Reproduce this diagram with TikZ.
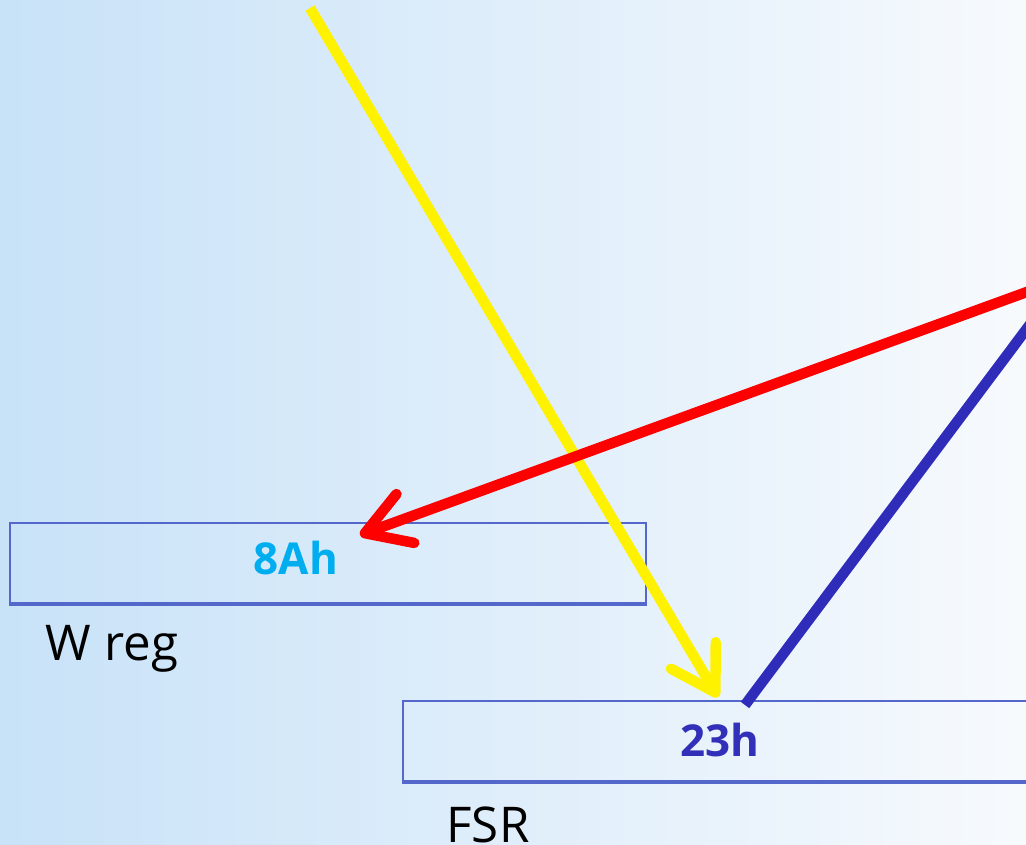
\documentclass[tikz,border=0pt]{standalone}
\usepackage{fontspec}
\setmainfont{Open Sans}
\usetikzlibrary{arrows.meta}
\definecolor{bgleft}{RGB}{200,226,248}
\definecolor{bgmid}{RGB}{234,242,251}
\definecolor{bgright}{RGB}{247,250,253}
\definecolor{boxblue}{RGB}{84,104,204}
\definecolor{valcyan}{RGB}{0,174,239}
\definecolor{valblue}{RGB}{50,48,184}
\definecolor{lineblue}{RGB}{46,44,184}
\tikzset{
  regbox/.style={draw=boxblue, line width=0.6pt, inner sep=0pt, anchor=north west, minimum height=0.8cm},
  regval/.style={font=\bfseries\fontsize{12.5}{15}\selectfont},
  reglbl/.style={font=\fontsize{14}{17}\selectfont, anchor=base},
  barb/.style={line width=0.105cm, -{Straight Barb[length=4.3mm, width=5.2mm, round]}}
}

\begin{document}
\begin{tikzpicture}[x=0.01cm, y=-0.01cm]
  % Background
  \useasboundingbox (0,0) rectangle (1026,844);
  \clip (0,0) rectangle (1026,844);
  \shade [left color=bgleft, middle color=bgmid, right color=bgright] (0,0) rectangle (1026,844);

  % W register
  \node [regbox, minimum width=6.36cm] (wreg) at (9,522) {};
  \draw [boxblue, line width=1.2pt] (wreg.south west) -- (wreg.south east);
  \node [regval, text=valcyan] (wval) at (296,558) {8Ah};
  \node [reglbl] (wlbl) at (112,660) {W reg};

  % FSR
  \node [regbox, minimum width=7cm] (fsr) at (402,700) {};
  \draw [boxblue, line width=1.2pt] (fsr.south west) -- (fsr.south east);
  \node [regval, text=valblue] (fval) at (720,740) {23h};
  \node [reglbl] (flbl) at (488,842) {FSR};

  % Arrows
  \coordinate (ystart) at (310,8);
  \coordinate (yend) at (718,697);
  \coordinate (rstart) at (1046,285);
  \coordinate (rend) at (360,535);
  \coordinate (bstart) at (745,705);
  \coordinate (bend) at (1046,303);
  \draw [barb, yellow] (ystart) -- (yend);
  \draw [barb, red] (rstart) -- (rend);
  \draw [line width=0.105cm, lineblue] (bstart) -- (bend);
\end{tikzpicture}
\end{document}
